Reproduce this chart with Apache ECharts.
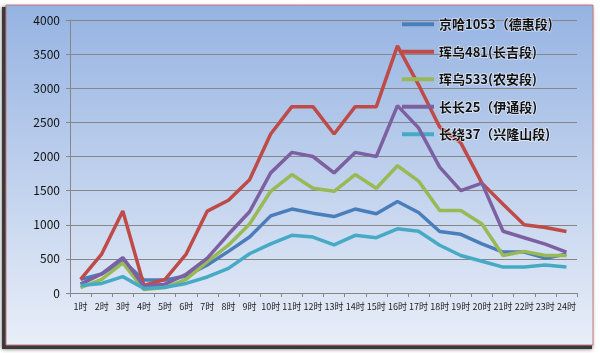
<!DOCTYPE html>
<html>
<head>
<meta charset="utf-8">
<script src="https://cdn.jsdelivr.net/npm/echarts@6/dist/echarts.min.js"></script>
<style>
  html, body { margin: 0; padding: 0; background: #fff; }
  #main { width: 600px; height: 353px; }
</style>
</head>
<body>
<div id="main"></div>
<script>
// 时段
const hours = ['1时', '2时', '3时', '4时', '5时', '6时', '7时', '8时', '9时', '10时', '11时', '12时',
  '13时', '14时', '15时', '16时', '17时', '18时', '19时', '20时', '21时', '22时', '23时', '24时'];

// 各路段流量
const jingha1053 = [200, 280, 470, 190, 190, 250, 410, 610, 820, 1130, 1230, 1170, 1120, 1230, 1160, 1340, 1180, 900, 860, 720, 600, 600, 510, 570];
const huiwu481 = [200, 570, 1200, 110, 200, 570, 1200, 1360, 1660, 2330, 2730, 2730, 2330, 2730, 2730, 3620, 3050, 2430, 2200, 1610, 1300, 1000, 960, 900];
const huiwu533 = [80, 200, 440, 50, 80, 200, 460, 700, 1010, 1490, 1735, 1535, 1490, 1735, 1535, 1865, 1640, 1210, 1210, 1010, 550, 610, 550, 550];
const changchang25 = [130, 280, 520, 100, 130, 275, 510, 860, 1190, 1760, 2060, 2000, 1760, 2060, 2000, 2745, 2420, 1845, 1500, 1610, 905, 810, 715, 600];
const changrao37 = [110, 140, 240, 65, 85, 140, 235, 360, 575, 720, 845, 820, 705, 845, 810, 940, 905, 700, 550, 465, 380, 380, 410, 380];

const seriesNames = ['京哈1053（德惠段)', '珲乌481(长吉段)', '珲乌533(农安段)', '长长25（伊通段)', '长绕37（兴隆山段)'];
const seriesData = [jingha1053, huiwu481, huiwu533, changchang25, changrao37];
const seriesColors = ['#4a7ebb', '#be4b48', '#98b954', '#7d60a0', '#46aac5'];

const myChart = echarts.init(document.getElementById('main'));

const option = {
  animation: false,
  textStyle: { fontFamily: '"Noto Sans CJK SC", "DejaVu Sans", sans-serif' },
  graphic: [
    // 背景阴影
    {
      type: 'rect', z: -10, silent: true,
      shape: { x: 2, y: 7, width: 590, height: 342 },
      style: { fill: '#3a3a3a', shadowBlur: 4, shadowColor: 'rgba(0,0,0,0.6)' }
    },
    // 渐变背景
    {
      type: 'rect', z: -9, silent: true,
      shape: { x: 6, y: 5, width: 587, height: 340 },
      style: {
        stroke: '#c9787a', lineWidth: 1,
        fill: new echarts.graphic.LinearGradient(0, 0, 0, 1, [
          { offset: 0, color: '#95b3e2' },
          { offset: 1, color: '#e9eef8' }
        ])
      }
    }
  ],
  grid: { left: 70, right: 23, top: 20, bottom: 60 },
  legend: {
    orient: 'vertical',
    left: 397,
    top: 12,
    itemWidth: 32,
    itemHeight: 4,
    itemGap: 13,
    icon: 'rect',
    textStyle: {
      fontSize: 13, fontWeight: 'bold', color: '#111',
      textBorderColor: 'rgba(255,255,255,0.6)', textBorderWidth: 1.5
    },
    data: seriesNames
  },
  xAxis: {
    type: 'category',
    data: hours,
    boundaryGap: true,
    axisLine: { lineStyle: { color: '#868686', width: 1 } },
    axisTick: { show: true, length: 4, lineStyle: { color: '#868686' } },
    axisLabel: { fontSize: 9, color: '#222', margin: 9, interval: 0 }
  },
  yAxis: {
    type: 'value',
    min: 0,
    max: 4000,
    interval: 500,
    axisLine: { show: true, lineStyle: { color: '#868686', width: 1 } },
    axisTick: { show: true, length: 4, lineStyle: { color: '#868686' } },
    axisLabel: { fontSize: 12, color: '#111', margin: 10, formatter: v => String(v) },
    splitLine: { lineStyle: { color: '#868686', width: 1 } }
  },
  series: seriesData.map((d, i) => {
    return {
      name: seriesNames[i],
      type: 'line',
      data: d,
      symbol: 'none',
      color: seriesColors[i],
      lineStyle: { width: 3.5, color: seriesColors[i] },
      z: 2 + i
    }
  })
};

myChart.setOption(option);
</script>
</body>
</html>
